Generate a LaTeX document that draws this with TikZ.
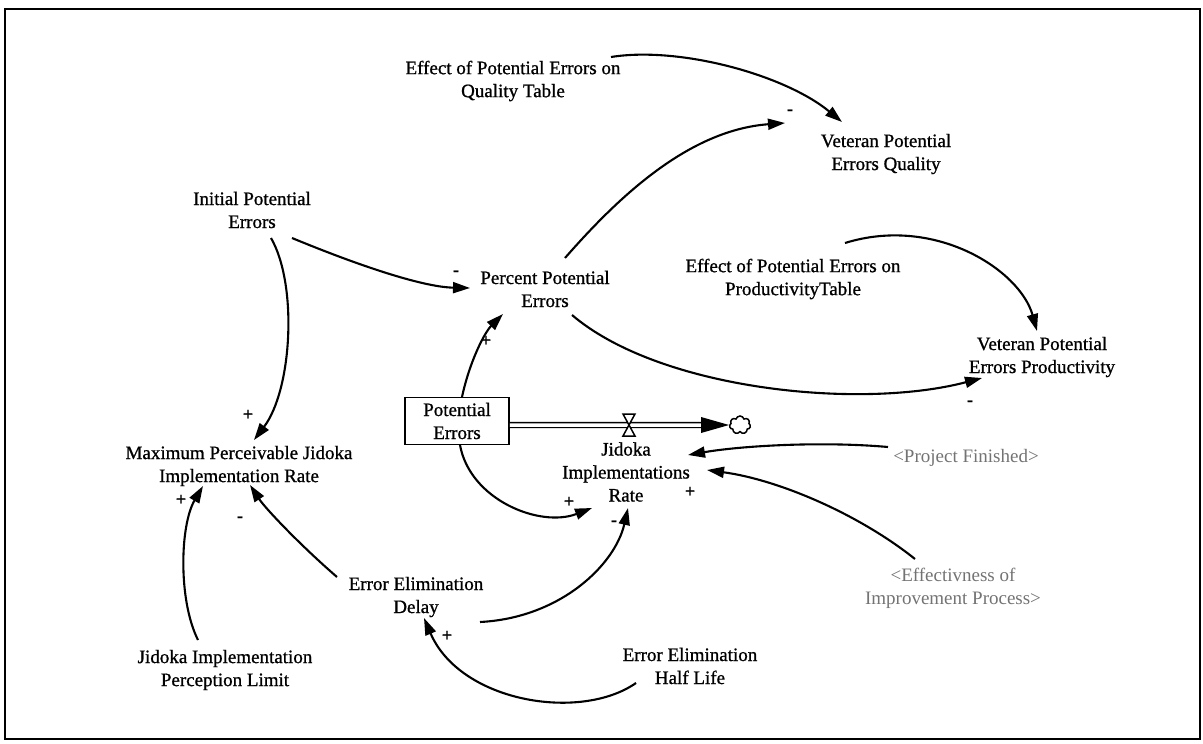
\documentclass[tikz,border=0pt]{standalone}
\usepackage{fontspec}
\setmainfont{Liberation Serif}[FakeBold=0.9]
\newfontfamily\shadowfont{Liberation Serif}
\usetikzlibrary{arrows.meta,calc,shapes.symbols}
\begin{document}
\begin{tikzpicture}[x=1pt,y=-1pt,
  var/.style={align=center, font=\fontsize{19}{23}\selectfont, inner sep=0pt},
  shadowvar/.style={align=center, font=\shadowfont\fontsize{19}{23}\selectfont, inner sep=0pt, text=black!55},
  stockbox/.style={var, draw, line width=1.8pt, minimum width=104pt, minimum height=47pt},
  conn/.style={line width=2.1pt, -{Triangle[length=17pt,width=11pt]}},
  sign/.style={font=\bfseries\fontsize{18}{18}\selectfont, inner sep=0pt},
]
\useasboundingbox (0,0) rectangle (1203,744);
\draw[line width=2.6pt] (5,9) rectangle (1200,739);

% variables
\node[var] (qt)  at (513,81)  {Effect of Potential Errors on\\Quality Table};
\node[var] (vq)  at (886,154) {Veteran Potential\\Errors Quality};
\node[var] (ipe) at (252,210) {Initial Potential\\Errors};
\node[var] (ppe) at (545,289) {Percent Potential\\Errors};
\node[var] (pt)  at (793,279) {Effect of Potential Errors on\\ProductivityTable};
\node[var] (vp)  at (1042,357) {Veteran Potential\\Errors Productivity};
\node[stockbox] (pe) at (457,421) {Potential\\Errors};
\node[var] (jir) at (626,472) {Jidoka\\Implementations\\Rate};
\node[var] (mpr) at (239,466) {Maximum Perceivable Jidoka\\Implementation Rate};
\node[var] (jpl) at (225,670) {Jidoka Implementation\\Perception Limit};
\node[var] (eed) at (416,597) {Error Elimination\\Delay};
\node[var] (hl)  at (690,666) {Error Elimination\\Half Life};
\node[shadowvar] (pf)  at (966,458) {<Project Finished>};
\node[shadowvar] (eip) at (953,588) {<Effectivness of\\Improvement Process>};

% flow: stock drains through the valve into a cloud
\node[cloud, cloud puffs=7, draw, line width=1.5pt, minimum width=21pt, minimum height=18pt, inner sep=0pt] (sink) at (740,425) {};
\coordinate (valve) at (629,425);
\coordinate (pipeend) at ($(sink.west)+(-26,0)$);
\draw[line width=1.3pt, double distance=3.5pt] (pe.east |- valve) -- (pipeend);
\fill ($(pipeend)+(-2,-8)$) -- (sink.west) -- ($(pipeend)+(-2,8)$) -- cycle;
\draw[line width=1.5pt, fill=white] ($(valve)+(-6,-11)$) -- ($(valve)+(6,-11)$) -- ($(valve)+(-6,11)$) -- ($(valve)+(6,11)$) -- cycle;

% causal links
\draw[conn] ($(qt)+(98,-24)$) .. controls (680,46) and (785,75) .. ($(vq)+(-44,-32)$);
\draw[conn] ($(ppe)+(20,-31)$) .. controls (620,195) and (690,130) .. ($(vq)+(-101,-31)$);
\draw[conn] ($(ipe)+(40,28)$) .. controls (350,262) and (420,287) .. ($(ppe)+(-75,-1)$);
\draw[conn] ($(ipe)+(19,28)$) .. controls (298,285) and (292,390) .. ($(mpr)+(15,-26)$);
\draw[conn] ($(pt)+(52,-36)$) .. controls (935,215) and (1020,270) .. ($(vp)+(-5,-26)$);
\draw[conn] ($(ppe)+(27,26)$) .. controls (660,390) and (860,410) .. ($(vp)+(-60,21)$);
\draw[conn] ($(pe)+(5,-24)$) .. controls (470,360) and (485,332) .. ($(ppe)+(-42,25)$);
\draw[conn] ($(pe)+(3,24)$) .. controls (470,500) and (540,528) .. ($(jir)+(-34,36)$);
\draw[conn] ($(pf)+(-78,-11)$) .. controls (820,441) and (740,446) .. ($(jir)+(62,-17)$);
\draw[conn] ($(eip)+(-38,-29)$) .. controls (860,515) and (780,480) .. ($(jir)+(81,-2)$);
\draw[conn] ($(eed)+(64,25)$) .. controls (560,618) and (615,565) .. ($(jir)+(2,36)$);
\draw[conn] ($(eed)+(-79,-20)$) .. controls (300,545) and (265,508) .. ($(mpr)+(11,19)$);
\draw[conn] ($(jpl)+(-27,-30)$) .. controls (178,600) and (180,525) .. ($(mpr)+(-36,20)$);
\draw[conn] ($(hl)+(-54,17)$) .. controls (580,722) and (460,702) .. ($(eed)+(8,21)$);

% link polarities
\node[sign] (s1)  at (790,112) {-};
\node[sign] (s2)  at (456,273) {-};
\node[sign] (s3)  at (248,415) {+};
\node[sign] (s4)  at (970,403) {-};
\node[sign] (s5)  at (486,341) {+};
\node[sign] (s6)  at (569,502) {+};
\node[sign] (s7)  at (690,492) {+};
\node[sign] (s8)  at (614,523) {-};
\node[sign] (s9)  at (240,519) {-};
\node[sign] (s10) at (181,500) {+};
\node[sign] (s11) at (447,636) {+};
\end{tikzpicture}
\end{document}
